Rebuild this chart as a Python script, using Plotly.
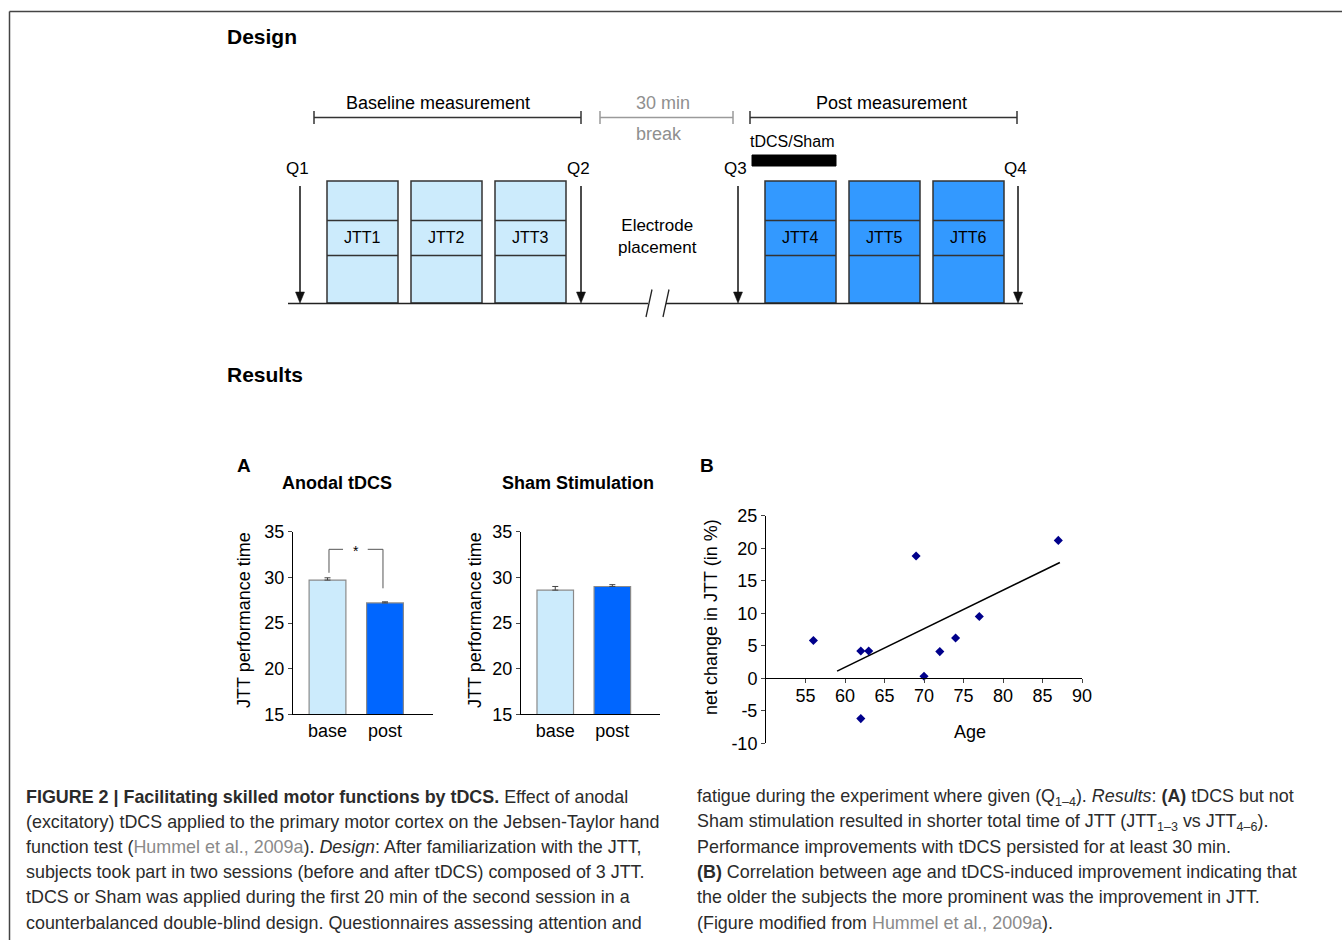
import plotly.graph_objects as go

# ---------------- data ----------------
conditions = ["base", "post"]
anodal_means = [29.7, 27.2]
anodal_err = [0.25, 0.12]
sham_means = [28.6, 29.0]
sham_err = [0.4, 0.2]
bar_yticks = [15, 20, 25, 30, 35]

ages = [56, 62, 63, 62, 69, 70, 72, 74, 77, 87]
net_change = [5.8, 4.2, 4.2, -6.2, 18.8, 0.3, 4.1, 6.2, 9.5, 21.2]
trend_age = [59, 87.2]
trend_change = [1.1, 17.8]
scatter_xticks = [55, 60, 65, 70, 75, 80, 85, 90]
scatter_yticks = [-10, -5, 0, 5, 10, 15, 20, 25]
scatter_yticktext = ["-10", "-5", "0", "5", "10", "15", "20", "25"]

baseline_jtt = ["JTT1", "JTT2", "JTT3"]
post_jtt = ["JTT4", "JTT5", "JTT6"]
q_labels = ["Q1", "Q2", "Q3", "Q4"]

# ---------------- layout helpers ----------------
W, H = 1342, 940
def X(px):
    return px / W
def Y(py):
    return 1 - py / H

FONT = "Liberation Sans, Arial, sans-serif"
LIGHT = "#CCEBFC"
DARK_BOX = "#3399FF"
POST_BAR = "#0066FF"
TXT = "#000000"

fig = go.Figure()

# ---------------- Panel A bars ----------------
bar_line = dict(color="#8a8a8a", width=1.2)
fig.add_trace(go.Bar(
    x=[0, 1], y=anodal_means, width=0.64,
    marker=dict(color=[LIGHT, POST_BAR], line=bar_line),
    error_y=dict(type="data", symmetric=False, array=anodal_err, arrayminus=[0, 0],
                 color="#444", thickness=1, width=3),
    xaxis="x", yaxis="y", showlegend=False))
fig.add_trace(go.Bar(
    x=[0, 1], y=sham_means, width=0.64,
    marker=dict(color=[LIGHT, POST_BAR], line=bar_line),
    error_y=dict(type="data", symmetric=False, array=sham_err, arrayminus=[0, 0],
                 color="#444", thickness=1, width=3),
    xaxis="x2", yaxis="y2", showlegend=False))

# ---------------- Panel B scatter ----------------
fig.add_trace(go.Scatter(
    x=trend_age, y=trend_change, mode="lines",
    line=dict(color="black", width=1.6),
    xaxis="x3", yaxis="y3", showlegend=False))
fig.add_trace(go.Scatter(
    x=ages, y=net_change, mode="markers",
    marker=dict(symbol="diamond", size=7, color="#00008B"),
    xaxis="x3", yaxis="y3", showlegend=False))

bar_ydom = [Y(714.3), Y(531.7)]
tickfont = dict(family=FONT, size=18, color=TXT)

def bar_xaxis(dom, anchor):
    return dict(domain=dom, anchor=anchor, range=[-0.6, 1.835], showline=True,
                linecolor="black", linewidth=1, ticks="", automargin=False,
                tickvals=[0, 1], ticktext=conditions,
                tickfont=tickfont, showgrid=False, zeroline=False, fixedrange=True)

def bar_yaxis(anchor):
    return dict(domain=bar_ydom, anchor=anchor, range=[15, 35], showline=True,
                linecolor="black", linewidth=1, ticks="outside", ticklen=4,
                automargin=False,
                tickvals=bar_yticks, tickfont=tickfont, showgrid=False,
                zeroline=False, fixedrange=True)

xaxis3 = dict(domain=[X(766), X(1082)], anchor="free", position=Y(678.3),
              range=[50, 90], showline=True, linecolor="black", linewidth=1,
              ticks="outside", ticklen=4, tickvals=scatter_xticks, automargin=False,
              tickfont=tickfont, showgrid=False, zeroline=False, fixedrange=True)

fig.update_layout(
    xaxis=bar_xaxis([X(293), X(433)], "y"),
    yaxis=bar_yaxis("x"),
    xaxis2=bar_xaxis([X(521), X(660)], "y2"),
    yaxis2=bar_yaxis("x2"),
    xaxis3=xaxis3,
    yaxis3=dict(domain=[Y(743.3), Y(515.7)], anchor="x3", range=[-10, 25],
                showline=True, linecolor="black", linewidth=1, ticks="outside",
                ticklen=4, tickvals=scatter_yticks, ticktext=scatter_yticktext,
                automargin=False,
                tickfont=tickfont, showgrid=False, zeroline=False, fixedrange=True),
)
try:
    fig.update_layout(xaxis3_ticklabelstandoff=-3)
except Exception:
    pass

shapes = []
annotations = []

def line(x0, y0, x1, y1, color="black", width=1.5, xref="paper", yref="paper"):
    if xref == "paper":
        x0, x1 = X(x0), X(x1)
    if yref == "paper":
        y0, y1 = Y(y0), Y(y1)
    shapes.append(dict(type="line", xref=xref, yref=yref, x0=x0, y0=y0, x1=x1, y1=y1,
                       line=dict(color=color, width=width)))

def rect(x0, y0, x1, y1, fill, lc="#333333", lw=1.5):
    shapes.append(dict(type="rect", xref="paper", yref="paper", x0=X(x0), y0=Y(y0),
                       x1=X(x1), y1=Y(y1), fillcolor=fill, line=dict(color=lc, width=lw)))

def tri_down(xc, ytip, w=9, h=11, color="#111111"):
    path = "M {a},{b} L {c},{d} L {e},{f} Z".format(
        a=X(xc - w / 2), b=Y(ytip - h), c=X(xc + w / 2), d=Y(ytip - h), e=X(xc), f=Y(ytip))
    shapes.append(dict(type="path", xref="paper", yref="paper", path=path,
                       fillcolor=color, line=dict(color=color, width=0.5)))

def text(t, x, y, size=17, bold=False, color=TXT, xanchor="center", angle=0, family=FONT):
    if bold:
        t = "<b>" + t + "</b>"
    annotations.append(dict(text=t, x=X(x), y=Y(y), xref="paper", yref="paper",
                            xanchor=xanchor, yanchor="middle", showarrow=False,
                            xshift=-2 if xanchor == "left" else 0,
                            textangle=angle, font=dict(family=family, size=size, color=color)))

# significance bracket (data coords of panel A)
br = "#555555"
line(0.026, 30.5, 0.026, 33.07, br, 1, "x", "y")
line(0.026, 33.07, 0.27, 33.07, br, 1, "x", "y")
line(0.70, 33.07, 0.965, 33.07, br, 1, "x", "y")
line(0.965, 33.07, 0.965, 28.8, br, 1, "x", "y")
text("*", 356, 551, size=14)

# panel titles / labels
text("A", 244, 465, size=19, bold=True)
text("B", 707, 465, size=19, bold=True)
text("Anodal tDCS", 337, 483, size=18, bold=True)
text("Sham Stimulation", 578, 483, size=18, bold=True)
text("JTT performance time", 244, 620, size=18, angle=-90)
text("JTT performance time", 475, 620, size=18, angle=-90)
text("net change in JTT (in %)", 711, 617, size=18, angle=-90)
text("Age", 970, 732, size=18)

# ---------------- frame ----------------
line(9.5, 11.5, 1342, 11.5, "#444444", 1.5)
line(9.5, 11.5, 9.5, 940, "#444444", 1.5)

text("Design", 227, 37, size=21, bold=True, xanchor="left")
text("Results", 227, 374, size=21, bold=True, xanchor="left")

# ---------------- design diagram ----------------
def bracket(x0, x1, color):
    line(x0, 117.5, x1, 117.5, color, 1.5)
    line(x0, 111, x0, 124, color, 1.5)
    line(x1, 111, x1, 124, color, 1.5)

bracket(314, 581, "#333333")
bracket(600, 733, "#9a9a9a")
bracket(750, 1017, "#333333")
text("Baseline measurement", 438, 103, size=18)
text("30 min", 663, 103, size=18, color="#8f8f8f")
text("break", 659, 134, size=18, color="#8f8f8f")
text("Post measurement", 891, 103, size=18)
text("tDCS/Sham", 792, 141, size=16)
rect(752, 155, 836, 166, "black", "black", 1)

box_w = 71
for labels, lefts, fill in [(baseline_jtt, [327, 411, 495], LIGHT),
                            (post_jtt, [765, 849, 933], DARK_BOX)]:
    for lab, x0 in zip(labels, lefts):
        rect(x0, 181, x0 + box_w, 303, fill)
        line(x0, 220.5, x0 + box_w, 220.5, "#333333", 1.5)
        line(x0, 255.5, x0 + box_w, 255.5, "#333333", 1.5)
        text(lab, x0 + box_w / 2, 238, size=16)

text("Electrode<br>placement", 657, 236, size=17)

# timeline with break
line(288, 303.5, 648, 303.5, "#222222", 1.5)
line(666, 303.5, 1023, 303.5, "#222222", 1.5)
line(646, 317, 652, 289.5, "#222222", 1.3)
line(663, 317, 669, 289.5, "#222222", 1.3)

# questionnaire arrows
for q, ax_, lx in zip(q_labels, [300, 581, 738, 1018], [297, 578, 735, 1015]):
    line(ax_, 186, ax_, 295, "#111111", 1.5)
    tri_down(ax_, 303)
    text(q, lx, 168, size=17)

# ---------------- caption ----------------
CAP_FONT = "Liberation Sans, Arial, sans-serif"
CAP_COL = "#2b2b2b"
GREY = "<span style='color:#8a8a8a'>Hummel et al., 2009a</span>"
left_lines = [
    "<b>FIGURE 2 | Facilitating skilled motor functions by tDCS.</b> Effect of anodal",
    "(excitatory) tDCS applied to the primary motor cortex on the Jebsen-Taylor hand",
    "function test (" + GREY + "). <i>Design</i>: After familiarization with the JTT,",
    "subjects took part in two sessions (before and after tDCS) composed of 3 JTT.",
    "tDCS or Sham was applied during the first 20 min of the second session in a",
    "counterbalanced double-blind design. Questionnaires assessing attention and",
]
right_lines = [
    "fatigue during the experiment where given (Q<sub>1\u20134</sub>). <i>Results</i>: <b>(A)</b> tDCS but not",
    "Sham stimulation resulted in shorter total time of JTT (JTT<sub>1\u20133</sub> vs JTT<sub>4\u20136</sub>).",
    "Performance improvements with tDCS persisted for at least 30 min.",
    "<b>(B)</b> Correlation between age and tDCS-induced improvement indicating that",
    "the older the subjects the more prominent was the improvement in JTT.",
    "(Figure modified from " + GREY + ").",
]
line_ys = [797, 822, 847, 872, 897, 923]
for t, yy in zip(left_lines, line_ys):
    text(t, 26, yy, size=17.9, color=CAP_COL, xanchor="left", family=CAP_FONT)
for t, yy in zip(right_lines, line_ys):
    text(t, 697, yy, size=17.9, color=CAP_COL, xanchor="left", family=CAP_FONT)

fig.update_layout(
    width=W, height=H, autosize=False,
    margin=dict(l=0, r=0, t=0, b=0, pad=0, autoexpand=False),
    paper_bgcolor="white", plot_bgcolor="rgba(0,0,0,0)",
    shapes=shapes, annotations=annotations,
    font=dict(family=FONT, color=TXT),
    showlegend=False,
)

fig.write_html("out.html", config={"displayModeBar": False},
               post_script="document.body.style.margin='0';document.body.style.overflow='hidden';")
